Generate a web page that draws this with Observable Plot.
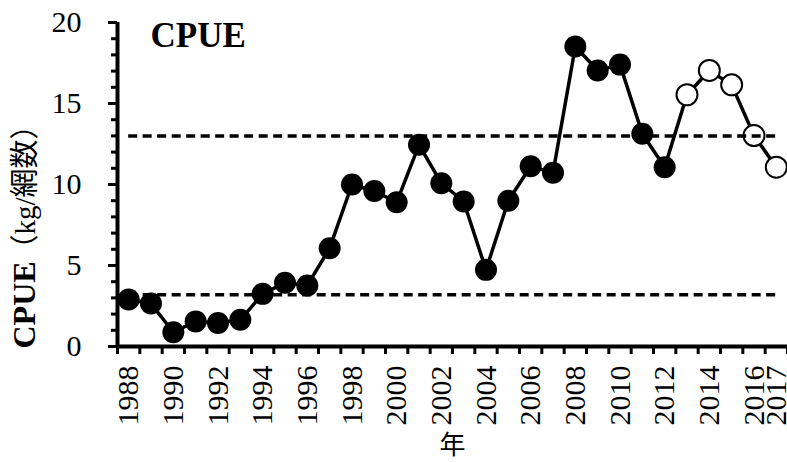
<!DOCTYPE html>
<html><head><meta charset="utf-8">
<script src="https://cdn.jsdelivr.net/npm/d3@7"></script>
<script src="https://cdn.jsdelivr.net/npm/@observablehq/plot@0.6"></script>
<style>body{margin:0;background:#fff}</style>
</head><body><div id="chart"></div>
<script>
const years = [1988,1989,1990,1991,1992,1993,1994,1995,1996,1997,1998,1999,2000,2001,2002,2003,2004,2005,2006,2007,2008,2009,2010,2011,2012,2013,2014,2015,2016,2017];
const cpue = [2.9,2.65,0.88,1.55,1.45,1.65,3.25,3.93,3.77,6.07,10.0,9.6,8.9,12.45,10.08,8.95,4.73,9.0,11.13,10.72,18.52,17.04,17.4,13.13,11.07,15.54,17.04,16.15,13.02,11.07];
const openYears = [2013,2014,2015,2016,2017];
const refLines = [13, 3.2];
const yMajorTicks = [0,5,10,15,20];
const yMinorTicks = [0,1,2,3,4,5,6,7,8,9,10,11,12,13,14,15,16,17,18,19,20];
const xLabelYears = [1988,1990,1992,1994,1996,1998,2000,2002,2004,2006,2008,2010,2012,2014,2016,2017];
const titleText = "CPUE";
const yTitleBold = "CPUE";
const yTitleRest = "（kg/網数）";
const xTitle = "年";

const data = years.map((y, i) => ({year: y, value: cpue[i], open: openYears.includes(y)}));
const bounds = [years[0] - 0.5, ...years.map(y => y + 0.5)];
const serif = "Liberation Serif";
const cjk = "Liberation Serif, Noto Sans CJK JP";

const chart = Plot.plot({
  width: 787,
  height: 462,
  marginLeft: 117,
  marginRight: 0,
  marginTop: 22,
  marginBottom: 116,
  style: {fontFamily: serif, background: "white", color: "black", overflow: "visible"},
  x: {domain: [years[0] - 0.5, years[years.length - 1] + 0.5]},
  y: {domain: [0, 20]},
  marks: [
    Plot.line(data, {x: "year", y: "value", stroke: "black", strokeWidth: 3.5}),
    Plot.dot(data.filter(d => !d.open), {x: "year", y: "value", r: 11, fill: "black", stroke: "none"}),
    Plot.dot(data.filter(d => d.open), {x: "year", y: "value", r: 10.5, fill: "white", stroke: "black", strokeWidth: 2}),
    Plot.ruleY(refLines, {y: d => d, x1: years[0], x2: years[years.length - 1], stroke: "black", strokeWidth: 3.5, strokeDasharray: "9,5.5"}),
    Plot.axisY({ticks: yMinorTicks, tickSize: 6, tickFormat: () => "", strokeWidth: 3, label: null}),
    Plot.axisY({ticks: yMajorTicks, tickSize: 9, tickPadding: 27, strokeWidth: 3, fontSize: 30, fontFamily: serif, label: null}),
    Plot.axisX({ticks: bounds, tickSize: 8, tickFormat: () => "", strokeWidth: 3, label: null}),
    Plot.axisX({ticks: xLabelYears, tickSize: 0, tickPadding: 19, tickRotate: -90, fontSize: 30, fontFamily: serif, tickFormat: d => String(d), label: null}),
    Plot.ruleX([years[0] - 0.5], {y1: 0, y2: 20, stroke: "black", strokeWidth: 4}),
    Plot.ruleY([0], {stroke: "black", strokeWidth: 4}),
    Plot.text([titleText], {frameAnchor: "top-left", dx: 33, dy: 0, fontSize: 35, fontWeight: "bold", fontFamily: serif, textAnchor: "start", lineAnchor: "top"}),
    Plot.text([yTitleBold], {frameAnchor: "left", dx: -83, dy: 164, rotate: -90, fontSize: 32, fontWeight: "bold", fontFamily: serif, textAnchor: "start", lineAnchor: "bottom"}),
    Plot.text([yTitleRest], {frameAnchor: "left", dx: -83, dy: -74, rotate: -90, fontSize: 29, fontFamily: cjk, textAnchor: "end", lineAnchor: "bottom"}),
    Plot.text([xTitle], {frameAnchor: "bottom", dy: 99, fontSize: 26, fontFamily: "Noto Sans CJK JP", lineAnchor: "middle"})
  ]
});
document.getElementById("chart").appendChild(chart);
</script>
</body></html>
